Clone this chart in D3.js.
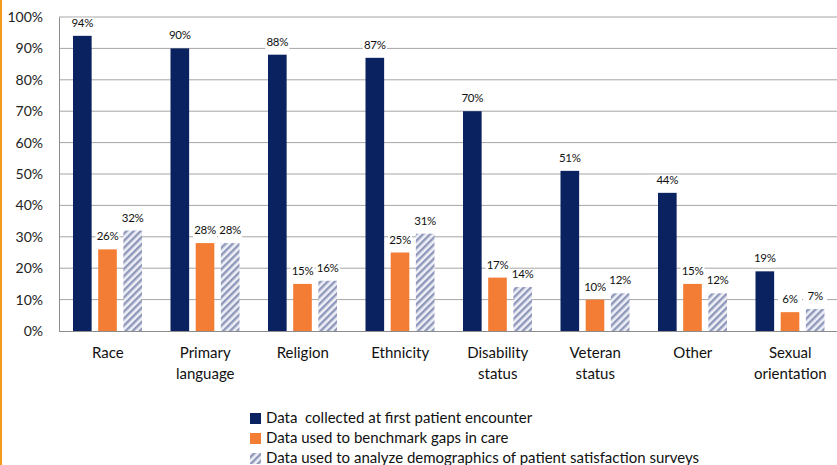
<!DOCTYPE html>
<head>
<script src="https://d3js.org/d3.v7.min.js"></script>
</head>
<style>
body { margin: 0; background: #fff; font-family: "Lato", "Open Sans", sans-serif; }
svg { display: block; }
</style>
<body>
<svg id="chart"></svg>
<script>
// chart data
var categories = ["Race", "Primary\nlanguage", "Religion", "Ethnicity", "Disability\nstatus", "Veteran\nstatus", "Other", "Sexual\norientation"];
var collected = [94, 90, 88, 87, 70, 51, 44, 19];
var benchmark = [26, 28, 15, 25, 17, 10, 15, 6];
var satisfaction = [32, 28, 16, 31, 14, 12, 12, 7];
var seriesNames = ["Data  collected at first patient encounter", "Data used to benchmark gaps in care", "Data used to analyze demographics of patient satisfaction surveys"];
var yTicks = [0, 10, 20, 30, 40, 50, 60, 70, 80, 90, 100];

var width = 837, height = 465;
var margin = {left: 59, top: 17, right: -2, bottom: 134};

var svg = d3.select("#chart").attr("width", width).attr("height", height);

// hatch pattern for third series
var defs = svg.append("defs");
var pat = defs.append("pattern")
    .attr("id", "hatch")
    .attr("patternUnits", "userSpaceOnUse")
    .attr("width", 5).attr("height", 5)
    .attr("patternTransform", "rotate(45)");
pat.append("rect").attr("width", 5).attr("height", 5).attr("fill", "#eef0f6");
pat.append("rect").attr("x", 0).attr("width", 2.4).attr("height", 5).attr("fill", "#8f98bb");

var colors = ["#0b2260", "#f47d35", "url(#hatch)"];
var series = [collected, benchmark, satisfaction];

// orange rule on the far left
svg.append("rect").attr("x", 0).attr("y", 0).attr("width", 2).attr("height", height).attr("fill", "#f29a1b");

var x = d3.scaleBand()
    .domain(d3.range(categories.length))
    .range([margin.left, width - margin.right]);

var x1 = d3.scaleBand()
    .domain([0, 1, 2])
    .range([14, 83])
    .paddingInner(0.26);

var y = d3.scaleLinear()
    .domain([0, 100])
    .range([height - margin.bottom, margin.top]);

// gridlines
svg.append("g")
  .selectAll("line")
  .data(yTicks.slice(1))
  .enter().append("line")
    .attr("x1", margin.left).attr("x2", width)
    .attr("y1", function(d) { return y(d); })
    .attr("y2", function(d) { return y(d); })
    .attr("stroke", "#a6a6a6")
    .attr("stroke-width", 1);

// y axis
var yAxis = svg.append("g")
    .attr("transform", "translate(" + margin.left + ",0)")
    .call(d3.axisLeft(y).tickValues(yTicks).tickSize(0).tickPadding(16)
        .tickFormat(function(d) { return d + "%"; }));
yAxis.select(".domain").attr("stroke", "#8c8c8c");
yAxis.selectAll("text").attr("font-size", 14).attr("fill", "#222").attr("font-family", "Lato, sans-serif");

// bars
var groups = svg.append("g")
  .selectAll("g")
  .data(categories)
  .enter().append("g")
    .attr("transform", function(d, i) { return "translate(" + x(i) + ",0)"; });

series.forEach(function(vals, s) {
  groups.append("rect")
    .attr("x", x1(s))
    .attr("width", x1.bandwidth())
    .attr("y", function(d, i) { return y(vals[i]); })
    .attr("height", function(d, i) { return y(0) - y(vals[i]); })
    .attr("fill", colors[s]);
});

// bottom axis line
svg.append("line")
    .attr("x1", margin.left).attr("x2", width)
    .attr("y1", y(0) + 0.5).attr("y2", y(0) + 0.5)
    .attr("stroke", "#8c8c8c");

// value labels with white boxes
series.forEach(function(vals, s) {
  var lab = groups.append("g")
    .attr("transform", function(d, i) {
      return "translate(" + (x1(s) + x1.bandwidth() / 2) + "," + (y(vals[i]) - 9) + ")";
    });
  lab.append("rect")
    .attr("x", -12).attr("y", -9).attr("width", 24).attr("height", 14)
    .attr("fill", "#fff");
  lab.append("text")
    .attr("text-anchor", "middle")
    .attr("font-size", 11.5)
    .attr("letter-spacing", -0.3)
    .attr("fill", "#111")
    .text(function(d, i) { return vals[i] + "%"; });
});

// category labels
groups.append("text")
    .attr("x", x.bandwidth() / 2)
    .attr("y", y(0) + 27)
    .attr("text-anchor", "middle")
    .attr("font-size", 15)
    .attr("fill", "#111")
  .selectAll("tspan")
  .data(function(d) { return d.split("\n"); })
  .enter().append("tspan")
    .attr("x", x.bandwidth() / 2)
    .attr("dy", function(d, i) { return i ? 21 : 0; })
    .text(function(d) { return d; });

// legend
var legend = svg.append("g").attr("transform", "translate(250,423)");
seriesNames.forEach(function(name, s) {
  var row = legend.append("g").attr("transform", "translate(0," + (s * 20) + ")");
  row.append("rect").attr("x", 0).attr("y", -10).attr("width", 11).attr("height", 11).attr("fill", colors[s]);
  row.append("text").attr("x", 16).attr("y", 0).attr("font-size", 15).attr("fill", "#111")
    .style("white-space", "pre").text(name);
});
</script>
</body>
